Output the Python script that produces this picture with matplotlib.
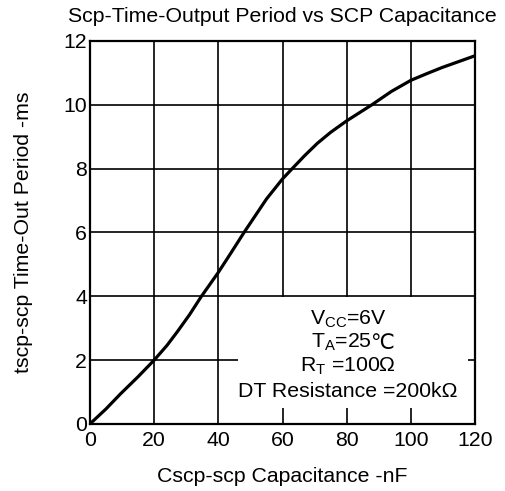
import matplotlib
matplotlib.use("Agg")
import matplotlib.pyplot as plt
from matplotlib.patches import Rectangle

plt.rcParams['font.family'] = ['Liberation Sans', 'DejaVu Sans']
plt.rcParams['mathtext.fontset'] = 'custom'
plt.rcParams['mathtext.rm'] = 'Liberation Sans'
plt.rcParams['mathtext.it'] = 'Liberation Sans:italic'
plt.rcParams['mathtext.fallback'] = 'stixsans'

title = "Scp-Time-Output Period vs SCP Capacitance"
xlabel = "Cscp-scp Capacitance -nF"
ylabel = "tscp-scp Time-Out Period -ms"
capacitance_nf = [0, 5, 9.6, 15, 20, 24, 27.3, 31, 34.6, 40, 44, 48, 52, 55, 60, 63, 67, 70.9, 75, 80, 87.8, 93.9, 100, 105, 109.7, 115, 120]
period_ms = [0, 0.47, 0.95, 1.48, 2.0, 2.46, 2.9, 3.42, 3.98, 4.75, 5.37, 6.0, 6.6, 7.05, 7.68, 8.0, 8.42, 8.8, 9.14, 9.5, 10.0, 10.42, 10.77, 10.98, 11.17, 11.36, 11.54]
xticks = [0, 20, 40, 60, 80, 100, 120]
yticks = [0, 2, 4, 6, 8, 10, 12]
note_vcc = r"V$_{\mathrm{CC}}$=6V"
note_ta = r"T$_{\mathrm{A}}$=25"
note_ta_unit = "℃"
note_rt = r"R$_{\mathrm{T}}$ =100Ω"
note_dt = "DT Resistance =200kΩ"

fs = 15.3
fig = plt.figure(figsize=(5.05, 4.91), dpi=100)
ax = fig.add_axes([0.178, 0.1365, 0.763, 0.78])

ax.plot(capacitance_nf, period_ms, color='black', lw=2.3, zorder=4,
        solid_capstyle='round', solid_joinstyle='round')
ax.set_xlim(0, 120)
ax.set_ylim(0, 12)
ax.set_xticks(xticks)
ax.set_yticks(yticks)
ax.grid(True, color='black', lw=1.2)
ax.tick_params(axis='both', length=0, labelsize=fs, colors='black')
ax.tick_params(axis='x', pad=5)
ax.tick_params(axis='y', pad=2)
for s in ax.spines.values():
    s.set_linewidth(1.6)
    s.set_zorder(5)

ax.add_patch(Rectangle((46.2, 0.5), 71.6, 3.48, facecolor='white', edgecolor='none', zorder=3))
cx = 80.4
ax.text(cx, 3.27, note_vcc, ha='center', va='center', fontsize=fs, zorder=6)
t = ax.text(cx - 2.2, 2.55, note_ta, ha='center', va='center', fontsize=fs, zorder=6)
ax.annotate(note_ta_unit, xy=(1, 0.5), xycoords=t, xytext=(0, 0), textcoords='offset points',
            ha='left', va='center', fontsize=fs, zorder=6, family=['DejaVu Sans'])
ax.text(cx, 1.8, note_rt, ha='center', va='center', fontsize=fs, zorder=6)
ax.text(cx, 1.02, note_dt, ha='center', va='center', fontsize=fs, zorder=6)

ax.set_title(title, fontsize=fs, pad=14)
ax.set_xlabel(xlabel, fontsize=fs, labelpad=12)
ax.set_ylabel(ylabel, fontsize=fs, labelpad=22)

fig.savefig("out.png", dpi=100)
